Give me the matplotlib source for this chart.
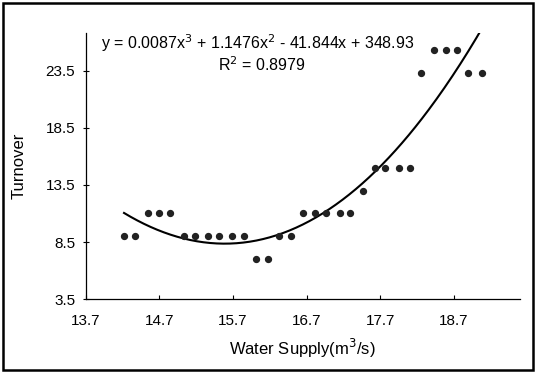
import numpy as np
import matplotlib
matplotlib.use('Agg')
import matplotlib.pyplot as plt
from matplotlib.patches import Rectangle

plt.rcParams['font.family'] = ['Liberation Sans', 'DejaVu Sans']

# 数据
water_supply = [14.22, 14.37, 14.54, 14.69, 14.85, 15.03, 15.19, 15.36, 15.51, 15.69,
                15.85, 16.01, 16.17, 16.33, 16.49, 16.65, 16.81, 16.97, 17.15, 17.29,
                17.47, 17.63, 17.77, 17.96, 18.10, 18.26, 18.43, 18.59, 18.74, 18.90, 19.08]
turnover = [9, 9, 11, 11, 11, 9, 9, 9, 9, 9,
            9, 7, 7, 9, 9, 11, 11, 11, 11, 11,
            13, 15, 15, 15, 15, 23.3, 25.3, 25.3, 25.3, 23.3, 23.3]
x_ticks = [13.7, 14.7, 15.7, 16.7, 17.7, 18.7]
y_ticks = [3.5, 8.5, 13.5, 18.5, 23.5]
eq_line = 'y = 0.0087x$^3$ + 1.1476x$^2$ - 41.844x + 348.93'
r2_line = 'R$^2$ = 0.8979'

x = np.array(water_supply)
y = np.array(turnover)

# 三次多项式拟合
coef = np.polyfit(x, y, 3)
xs = np.linspace(x.min(), 19.6, 300)
ys = np.polyval(coef, xs)

fig = plt.figure(figsize=(5.36, 3.72), dpi=100)
ax = fig.add_axes([0.160, 0.196, 0.810, 0.715])

ax.scatter(x, y, s=18, color='#222222', zorder=3)
ax.plot(xs, ys, color='black', linewidth=1.5)

ax.set_xlim(13.7, 19.6)
ax.set_ylim(3.5, 26.8)
ax.set_xticks(x_ticks)
ax.set_yticks(y_ticks)
ax.set_xticklabels([str(v) for v in x_ticks])
ax.set_yticklabels([str(v) for v in y_ticks])
ax.tick_params(axis='y', direction='inout', length=5, width=0.8, labelsize=11, pad=5)
ax.tick_params(axis='x', direction='in', length=3, width=0.8, labelsize=11, pad=11)

for s in ['top', 'right']:
    ax.spines[s].set_visible(False)
ax.spines['left'].set_linewidth(0.9)
ax.spines['bottom'].set_linewidth(0.9)

ax.set_xlabel('Water Supply(m$^3$/s)', fontsize=12, labelpad=6)
ax.set_ylabel('Turnover', fontsize=12, labelpad=14)

ax.text(0.396, 0.962, eq_line, transform=ax.transAxes, ha='center', va='center', fontsize=11.5)
ax.text(0.406, 0.880, r2_line, transform=ax.transAxes, ha='center', va='center', fontsize=11.5)

# 外框
fig.patches.append(Rectangle((0.006, 0.006), 0.988, 0.986, transform=fig.transFigure,
                             fill=False, edgecolor='black', linewidth=1.8))

fig.savefig('out.png', dpi=100)
